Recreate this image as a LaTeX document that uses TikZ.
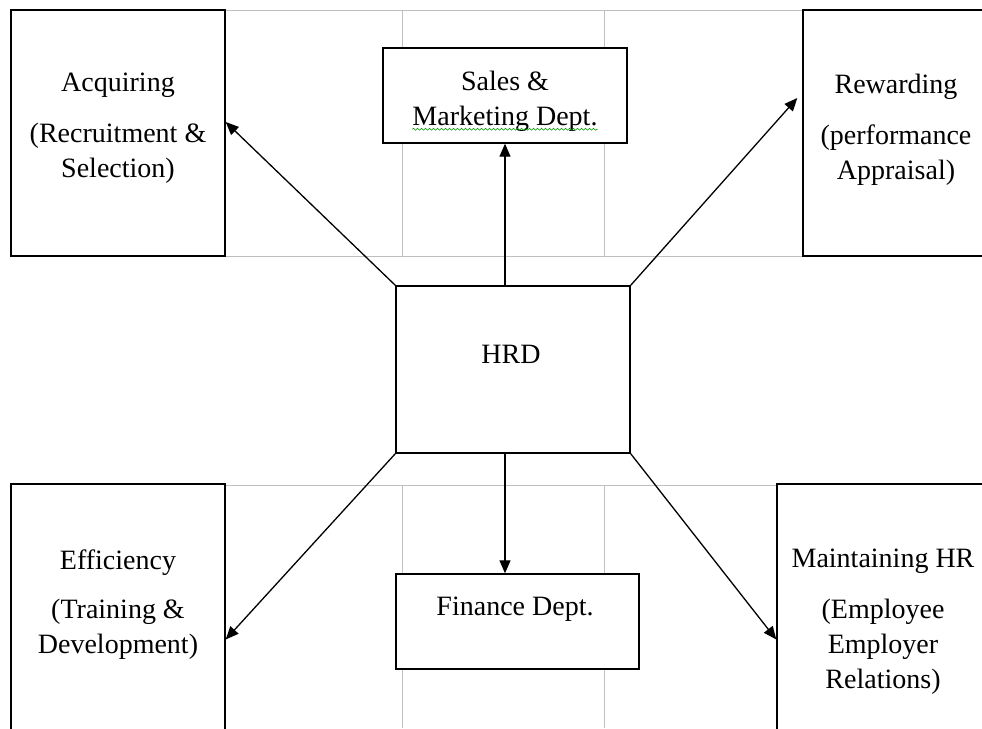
\documentclass[tikz,border=0pt]{standalone}
\usepackage{fontspec}
\setmainfont{Liberation Serif}
\usetikzlibrary{arrows.meta}
\usetikzlibrary{decorations.pathmorphing}

\begin{document}
\begin{tikzpicture}[x=1pt,y=-1pt,
    box/.style={draw=black,line width=1.4pt,fill=white,inner sep=0pt},
    txt/.style={align=center,inner sep=0pt,anchor=base,font=\fontsize{28}{35}\selectfont},
    grid/.style={draw=black!25,line width=1pt},
    arr/.style={line width=1.3pt,-{Triangle[length=13pt,width=11pt]}}]
    \useasboundingbox (0,0) rectangle (982,728);
    \clip (0,0) rectangle (982,728);

    % grey table lines behind the boxes
    \draw[grid] (225,10) -- (803,10) (225,256) -- (803,256);
    \draw[grid] (402,10) -- (402,256) (604,10) -- (604,256);
    \draw[grid] (225,485) -- (777,485);
    \draw[grid] (402,485) -- (402,728) (604,485) -- (604,728);

    \node[box,minimum width=214pt,minimum height=246pt] (acq) at (118,133) {};
    \node[box,minimum width=187pt,minimum height=246pt] (rew) at (896.5,133) {};
    \node[box,minimum width=244pt,minimum height=95pt] (sal) at (505,95.5) {};
    \node[box,minimum width=234pt,minimum height=167pt] (hrd) at (513,369.5) {};
    \node[box,minimum width=214pt,minimum height=261pt] (eff) at (118,614.5) {};
    \node[box,minimum width=213pt,minimum height=261pt] (mnt) at (883.5,614.5) {};
    \node[box,minimum width=243pt,minimum height=95pt] (fin) at (517.5,621.5) {};

    % base = baseline of the last line
    \node[txt] (acqtxt) at (118,177) {Acquiring\\[16pt](Recruitment \&\\Selection)};
    \node[txt] (rewtxt) at (896,179) {Rewarding\\[16pt](performance\\Appraisal)};
    \node[txt] (saltxt) at (505,125) {Sales \&\\Marketing Dept.};
    \node[txt] (hrdtxt) at (511,363) {HRD};
    \node[txt] (efftxt) at (118,653) {Efficiency\\[14pt](Training \&\\Development)};
    \node[txt] (mnttxt) at (883,688) {Maintaining HR\\[16pt](Employee\\Employer\\Relations)};
    \node[txt] (fintxt) at (515,615) {Finance Dept.};

    % spell check line
    \draw[green!60!black,line width=0.6pt,decorate,decoration={snake,amplitude=1pt,segment length=4pt}]
        ([yshift=2pt]saltxt.south west) -- ([yshift=2pt]saltxt.south east);

    \draw[arr] (hrd.north west) -- ([yshift=11pt]acq.east);
    \draw[arr] (hrd.north east) -- ([xshift=-5pt,yshift=35pt]rew.west);
    \draw[arr] (hrd.south west) -- ([yshift=-25pt]eff.east);
    \draw[arr] (hrd.south east) -- ([yshift=-25pt]mnt.west);
    \draw[arr] (hrd.north -| sal.south) -- (sal.south);
    \draw[arr] (hrd.south -| sal.south) -- (fin.north -| sal.south);
\end{tikzpicture}
\end{document}
